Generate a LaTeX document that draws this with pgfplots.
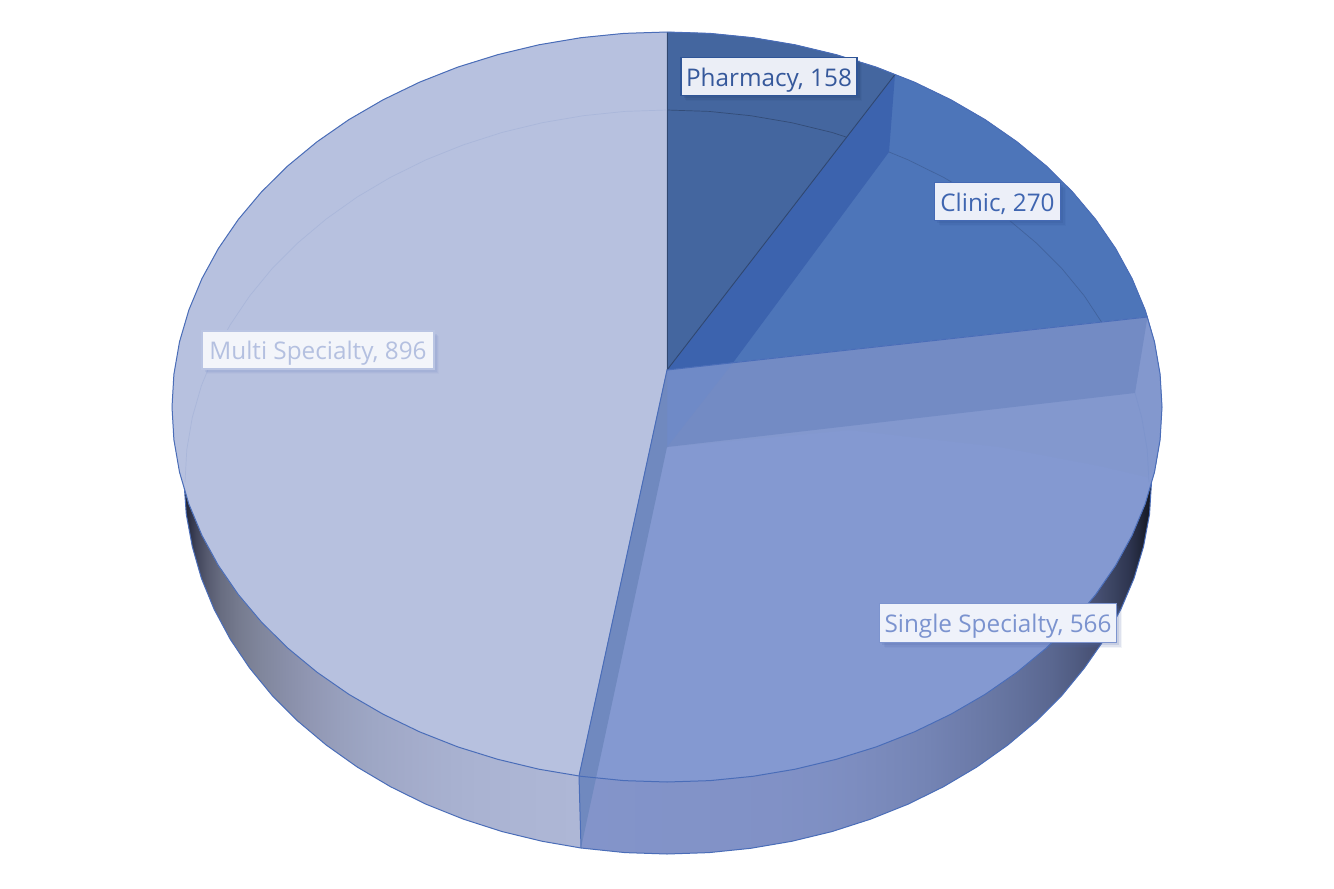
\documentclass[border=0pt]{standalone}
\usepackage{pgfplots}
\pgfplotsset{compat=1.18}
\usepackage{fontspec}
\setmainfont{Open Sans}
\usetikzlibrary{shadows}
\definecolor{mface}{HTML}{B7C1DF}
\definecolor{pface}{HTML}{44669F}
\definecolor{cface}{HTML}{4D75B9}
\definecolor{sface}{HTML}{8499D1}
\definecolor{wedge}{HTML}{3C63AE}
\definecolor{band}{HTML}{738BC4}
\definecolor{bandb}{HTML}{6F8AC7}
\definecolor{stripe}{HTML}{7089BF}
\definecolor{sright}{HTML}{8398CE}
\definecolor{edge}{HTML}{4A6DB8}
\definecolor{m1}{HTML}{AEB7D6}\definecolor{m2}{HTML}{ACB5D4}\definecolor{m3}{HTML}{AAB3D2}\definecolor{m4}{HTML}{A7B0CF}
\definecolor{m5}{HTML}{A3ABCA}\definecolor{m6}{HTML}{9EA7C5}\definecolor{m7}{HTML}{98A0BD}\definecolor{m8}{HTML}{9197B3}
\definecolor{m9}{HTML}{888EA8}\definecolor{m10}{HTML}{80869C}\definecolor{m11}{HTML}{767B8F}\definecolor{m12}{HTML}{686D81}
\definecolor{m13}{HTML}{565A6F}\definecolor{m14}{HTML}{40445A}\definecolor{m15}{HTML}{2C3045}\definecolor{m16}{HTML}{1E2130}
\definecolor{s1}{HTML}{8394CA}\definecolor{s3}{HTML}{8293C8}
\definecolor{s5}{HTML}{8191C6}\definecolor{s6}{HTML}{7F90C4}\definecolor{s7}{HTML}{7D8DC0}\definecolor{s8}{HTML}{7989BA}
\definecolor{s9}{HTML}{7484B4}\definecolor{s10}{HTML}{6E7DAC}\definecolor{s11}{HTML}{6877A3}\definecolor{s12}{HTML}{616F9A}
\definecolor{s13}{HTML}{5A6790}\definecolor{s14}{HTML}{505C82}\definecolor{s15}{HTML}{464F72}\definecolor{s16}{HTML}{3A4360}
\definecolor{s17}{HTML}{2E3550}\definecolor{s18}{HTML}{22283C}\definecolor{s20}{HTML}{14161F}
\pgfdeclarehorizontalshading{sideM}{100bp}{color(0bp)=(m16);color(25bp)=(m16);color(25.63bp)=(m15);color(26.52bp)=(m14);color(27.9bp)=(m13);color(29.67bp)=(m12);color(31.94bp)=(m11);color(34.6bp)=(m10);color(37.6bp)=(m9);color(41bp)=(m8);color(44.8bp)=(m7);color(48.9bp)=(m6);color(53.2bp)=(m5);color(57.8bp)=(m4);color(62.2bp)=(m3);color(67.3bp)=(m2);color(75bp)=(m1);color(100bp)=(m1)}
\pgfdeclarehorizontalshading{sideS}{100bp}{color(0bp)=(s1);color(25bp)=(s1);color(34.4bp)=(s3);color(41.7bp)=(s5);color(45.3bp)=(s6);color(48.7bp)=(s7);color(52.1bp)=(s8);color(55.4bp)=(s9);color(58.4bp)=(s10);color(61.2bp)=(s11);color(63.8bp)=(s12);color(66.2bp)=(s13);color(68.3bp)=(s14);color(70.2bp)=(s15);color(71.7bp)=(s16);color(73bp)=(s17);color(73.9bp)=(s18);color(75bp)=(s20);color(100bp)=(s20)}
\newcommand{\lab}[8]{%
  \node[fill=#5,draw=#6,line width=1.6pt,text=#7,inner sep=0pt,minimum width=#3pt,minimum height=#4pt,
    text height=19pt,text depth=0pt,
    general shadow={shadow xshift=5pt,shadow yshift=-5pt,opacity=0.07,fill=#8},
    general shadow={shadow xshift=4pt,shadow yshift=-4pt,opacity=0.12,fill=#8},
    general shadow={shadow xshift=2.5pt,shadow yshift=-2.5pt,opacity=0.16,fill=#8},
    font=\fontsize{24.3}{28}\selectfont]
    at (axis cs:#1) {#2};}
\definecolor{pl}{HTML}{EBEEF6}\definecolor{pb}{HTML}{2F5597}\definecolor{pt}{HTML}{35589B}\definecolor{ps}{HTML}{243F70}
\definecolor{cl}{HTML}{ECEFF8}\definecolor{cb}{HTML}{4469B4}\definecolor{ct}{HTML}{3F65B0}\definecolor{cs}{HTML}{2F4F8F}
\definecolor{sl}{HTML}{EFF2FA}\definecolor{sb}{HTML}{7D94CF}\definecolor{st}{HTML}{7B93CF}\definecolor{ss}{HTML}{4F68A8}
\definecolor{ml}{HTML}{F3F5FA}\definecolor{mb}{HTML}{BAC5E3}\definecolor{mt}{HTML}{B4C0E0}\definecolor{ms}{HTML}{7F92CC}
\begin{document}
\begin{tikzpicture}[x=1pt,y=1pt]
\fill[white] (0,0) rectangle (1334,889);
\begin{axis}[at={(0,0)},anchor=south west,width=1334pt,height=889pt,scale only axis,
  xmin=0,xmax=1334,ymin=0,ymax=889,y dir=reverse,axis lines=none,clip=true]
% sides
\addplot[draw=none,shading=sideS] coordinates {(581,482)(581,848)(625,852.6)(667,854)(709,852.6)(750.7,848.3)(791.7,841.3)(831.8,831.6)(870.7,819.1)(908,804.2)(943.5,786.7)(976.8,767)(1007.8,745)(1036.2,721.1)(1061.9,695.4)(1084.4,668)(1104.5,639.2)(1120.9,609.2)(1134,578.3)(1143.5,546.6)(1149.5,514.4)(1151.5,482)} --cycle;
\addplot[draw=none,shading=sideM] coordinates {(581,482)(581,848)(542.3,841.3)(502.2,831.6)(463.3,819.1)(426,804.2)(390.5,786.7)(357.2,767)(326.2,745)(297.8,721.1)(272.1,695.4)(249.6,668)(230.2,639.2)(214.1,609.2)(201.4,578.3)(192.3,546.6)(186.3,514.4)(184,482)} --cycle;
% bottom outline
\addplot[edge,line width=1pt] coordinates {(1151.5,482)(1149.5,514.4)(1143.5,546.6)(1134,578.3)(1120.9,609.2)(1104.5,639.2)(1084.4,668)(1061.9,695.4)(1036.2,721.1)(1007.8,745)(976.8,767)(943.5,786.7)(908,804.2)(870.7,819.1)(831.8,831.6)(791.7,841.3)(750.7,848.3)(709,852.6)(667,854)(625,852.6)(581,848)(542.3,841.3)(502.2,831.6)(463.3,819.1)(426,804.2)(390.5,786.7)(357.2,767)(326.2,745)(297.8,721.1)(272.1,695.4)(249.6,668)(230.2,639.2)(214.1,609.2)(201.4,578.3)(192.3,546.6)(186.3,514.4)(184,482)};
% top faces
\addplot[fill=mface,draw=mface,line width=0.3pt] coordinates {(667,370)(579,776)(538.9,769.2)(497.7,759.3)(457.8,746.9)(419.5,731.8)(383.1,714.2)(348.8,694.3)(317,672.2)(287.8,648.1)(261.5,622.1)(238.3,594.5)(218.4,565.5)(201.9,535.3)(188.9,504.1)(179.5,472.1)(173.9,439.7)(172,407)(173.9,374.3)(179.5,341.9)(188.9,309.9)(201.9,278.7)(218.4,248.5)(238.3,219.5)(261.5,191.9)(287.8,165.9)(317,141.8)(348.8,119.7)(383.1,99.8)(419.5,82.2)(457.8,67.1)(497.7,54.7)(538.9,44.8)(581,37.7)(623.8,33.4)(667,32)} --cycle;
\addplot[fill=pface,draw=pface,line width=0.3pt] coordinates {(667,370)(667,32)(710.2,33.4)(753,37.7)(795.1,44.8)(836.3,54.7)(876.2,67.1)(895,74.5)} --cycle;
\addplot[fill=cface,draw=cface,line width=0.3pt] coordinates {(667,370)(895,74.5)(914.5,82.2)(950.9,99.8)(985.2,119.7)(1017,141.8)(1046.2,165.9)(1072.5,191.9)(1095.7,219.5)(1115.6,248.5)(1132.1,278.7)(1145.1,309.9)(1147.5,317)} --cycle;
\addplot[fill=sface,draw=sface,line width=0.3pt] coordinates {(667,370)(1147.5,317)(1154.5,341.9)(1160.1,374.3)(1162,407)(1160.1,439.7)(1154.5,472.1)(1145.1,504.1)(1132.1,535.3)(1115.6,565.5)(1095.7,594.5)(1072.5,622.1)(1046.2,648.1)(1017,672.2)(985.2,694.3)(950.9,714.2)(914.5,731.8)(876.2,746.9)(836.3,759.3)(795.1,769.2)(753,776.3)(710.2,780.6)(667,782)(623.8,780.6)(579,776)} --cycle;
% seen-through faces
\addplot[fill=sright,draw=none] coordinates {(667,447)(1135,393)(1147.5,317)(1154.5,341.9)(1160.1,374.3)(1162,407)(1160.1,439.7)(1156,465)(1147,477)(1100,466)(1000,447)(850,430)} --cycle;
\addplot[fill=wedge,draw=none] coordinates {(667,370)(895,74.5)(889,152)(733,362.7)} --cycle;
\addplot[fill=band,draw=none] coordinates {(667,370)(1147.5,317)(1135,393)(667,447)} --cycle;
\addplot[fill=bandb,draw=none] coordinates {(667,370)(733,362.7)(667,447)} --cycle;
\addplot[fill=stripe,draw=none] coordinates {(667,370)(667,447)(581,848)(579,776)} --cycle;
% faint back arcs
\addplot[color=mface!88!edge,line width=0.7pt] coordinates {(185,482)(186.8,449.6)(192.3,417.4)(201.4,385.7)(214.1,354.8)(230.2,324.8)(249.6,296)(272.1,268.6)(297.8,242.9)(326.2,219)(357.2,197)(390.5,177.3)(426,159.8)(463.3,144.9)(502.2,132.4)(542.3,122.7)(583.3,115.7)(625,111.4)(667,110)};
\addplot[color=pface!75!black,line width=0.7pt] coordinates {(667,110)(709,111.4)(750.7,115.7)(791.7,122.7)(831.8,132.4)(846,137)};
\addplot[color=cface!85!black,line width=0.7pt] coordinates {(889,152)(908,159.8)(943.5,177.3)(976.8,197)(1007.8,219)(1036.2,242.9)(1061.9,268.6)(1084.4,296)(1101.5,322)};
\addplot[color=sright!90!edge,line width=0.7pt] coordinates {(1135,393)(1141.7,417.4)(1147.2,449.6)(1149,482)};
% slice edges and outline
\addplot[color=pface!70!black,line width=0.9pt] coordinates {(667,32)(667,370)};
\addplot[color=pface!70!black,line width=0.9pt] coordinates {(667,370)(895,74.5)};
\addplot[color=edge,line width=1pt] coordinates {(667,370)(1147.5,317)};
\addplot[color=edge,line width=1pt] coordinates {(667,370)(579,776)(581,848)};
\addplot[color=edge,line width=1pt] coordinates {(667,32)(710.2,33.4)(753,37.7)(795.1,44.8)(836.3,54.7)(876.2,67.1)(914.5,82.2)(950.9,99.8)(985.2,119.7)(1017,141.8)(1046.2,165.9)(1072.5,191.9)(1095.7,219.5)(1115.6,248.5)(1132.1,278.7)(1145.1,309.9)(1154.5,341.9)(1160.1,374.3)(1162,407)(1160.1,439.7)(1154.5,472.1)(1145.1,504.1)(1132.1,535.3)(1115.6,565.5)(1095.7,594.5)(1072.5,622.1)(1046.2,648.1)(1017,672.2)(985.2,694.3)(950.9,714.2)(914.5,731.8)(876.2,746.9)(836.3,759.3)(795.1,769.2)(753,776.3)(710.2,780.6)(667,782)(623.8,780.6)(581,776.3)(538.9,769.2)(497.7,759.3)(457.8,746.9)(419.5,731.8)(383.1,714.2)(348.8,694.3)(317,672.2)(287.8,648.1)(261.5,622.1)(238.3,594.5)(218.4,565.5)(201.9,535.3)(188.9,504.1)(179.5,472.1)(173.9,439.7)(172,407)(173.9,374.3)(179.5,341.9)(188.9,309.9)(201.9,278.7)(218.4,248.5)(238.3,219.5)(261.5,191.9)(287.8,165.9)(317,141.8)(348.8,119.7)(383.1,99.8)(419.5,82.2)(457.8,67.1)(497.7,54.7)(538.9,44.8)(581,37.7)(623.8,33.4)(667,32)};
% data labels
\lab{769,76.5}{Pharmacy, 158}{176}{38}{pl}{pb}{pt}{ps}
\lab{997.5,201.5}{Clinic, 270}{126}{38}{cl}{cb}{ct}{cs}
\lab{318,350}{Multi Specialty, 896}{232}{38}{ml}{mb}{mt}{ms}
\lab{998,623}{Single Specialty, 566}{237}{39}{sl}{sb}{st}{ss}
\end{axis}
\end{tikzpicture}
\end{document}
